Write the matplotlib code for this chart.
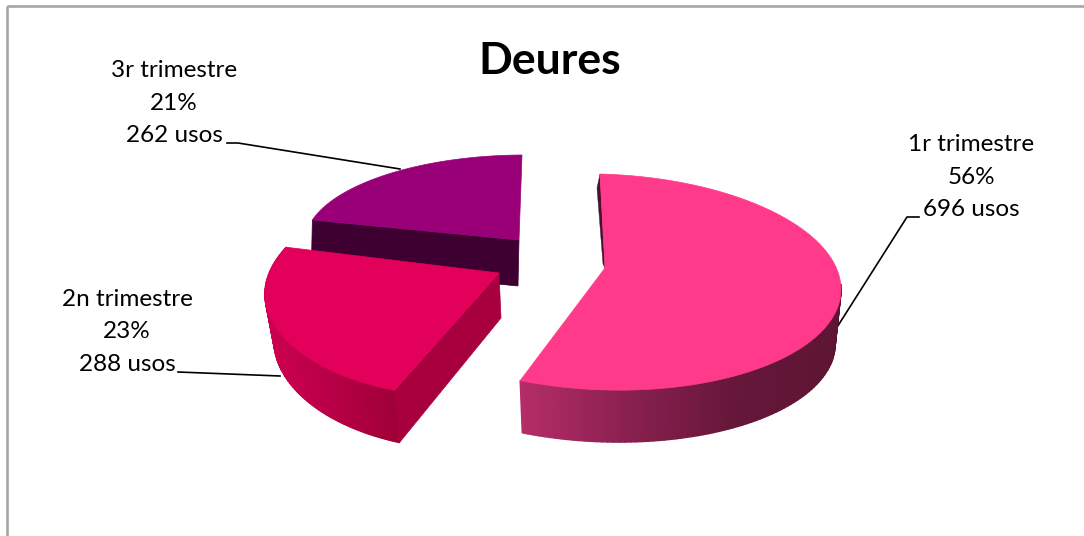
import numpy as np
import matplotlib
matplotlib.use("Agg")
import matplotlib.pyplot as plt
from matplotlib.collections import PolyCollection
from matplotlib.colors import LinearSegmentedColormap
from matplotlib.patches import Polygon, Rectangle

# Dades
trimestres = ["1r trimestre", "2n trimestre", "3r trimestre"]
percentatges = [56, 23, 21]
usos = [696, 288, 262]
titol = "Deures"

plt.rcParams['font.family'] = ['Lato', 'DejaVu Sans']

# Angles of the slices, clockwise from the top
fraccions = np.array(usos) / sum(usos)
limits = 90 - 360 * np.concatenate(([0], np.cumsum(fraccions)))

# Fake 3D projection of each slice, in pixels
formes = [
    dict(c=(603, 282), a=(238, 6), b=(-3, -108), apex=(605, 268), k=0.0,
         prof=(0, 55), esc=(0.975, 0.975), top="#FF3A8A",
         paret=["#B32D66", "#8A2050", "#66173A", "#5E1534"], parada=2),
    dict(c=(499, 273), a=(226, -5), b=(25, -124), apex=(499, 273), k=0.03,
         prof=(2, 45), esc=(0.97, 1.06), top="#E2005A",
         paret=["#A00038", "#B80046", "#CC0050"], parada=None, tall="#A8003F"),
    dict(c=(519, 240), a=(214, -1), b=(3, -85), apex=(519, 240), k=0.0,
         prof=(-1, 46), esc=(1, 1), top="#990077", tall="#3D0030"),
]

fig, ax = plt.subplots(figsize=(10.84, 5.36), dpi=100)
fig.subplots_adjust(0, 0, 1, 1)
ax.set_xlim(0, 1084)
ax.set_ylim(536, 0)
ax.axis('off')

ax.add_patch(Rectangle((7, 6), 1200, 800, fill=False, edgecolor="#A6A6A6", linewidth=1.9))


def arc(f, th0, th1, n=80):
    th = np.radians(np.linspace(th0, th1, n))
    t = np.linspace(0, 1, n)
    r = 1 + f['k'] * np.sin(np.pi * t ** 2)
    x = f['c'][0] + r * (f['a'][0] * np.cos(th) + f['b'][0] * np.sin(th))
    y = f['c'][1] + r * (f['a'][1] * np.cos(th) + f['b'][1] * np.sin(th))
    return np.column_stack([x, y])


def baix(f, pts):
    pts = np.asarray(pts, dtype=float)
    ap = np.array(f['apex'], dtype=float)
    return ap + np.array(f['prof']) + (pts - ap) * np.array(f['esc'])


def paret_degradat(f, pts, colors):
    b = baix(f, pts)
    quads = [[pts[i], pts[i + 1], b[i + 1], b[i]] for i in range(len(pts) - 1)]
    cmap = LinearSegmentedColormap.from_list("paret", colors)
    xm = np.array([np.mean([q[0][0], q[1][0]]) for q in quads])
    cols = cmap((xm - xm.min()) / (xm.max() - xm.min()))
    ax.add_collection(PolyCollection(quads, facecolors=cols, edgecolors=cols, linewidths=1.0))


# 3r trimestre (back)
f = formes[2]
pts = arc(f, limits[3] + 360, limits[2] + 360)  # from the top edge round to the left edge
esq = pts[-1]
ax.add_patch(Polygon([esq, f['apex'], baix(f, f['apex']), baix(f, esq)], closed=True, color=f['tall'], lw=0.5))
ax.add_patch(Polygon(np.vstack([[f['apex']], pts]), closed=True, color=f['top'], lw=0.5))

# 2n trimestre
f = formes[1]
pts = arc(f, limits[1], limits[2])
paret_degradat(f, pts[::-1], f['paret'][::-1])
ax.add_patch(Polygon([pts[0], f['apex'], baix(f, f['apex']), baix(f, pts[0])], closed=True, color=f['tall'], lw=0.5))
ax.add_patch(Polygon(np.vstack([[f['apex']], pts]), closed=True, color=f['top'], lw=0.5))

# 1r trimestre
f = formes[0]
pts = arc(f, limits[0], limits[1])
visible = arc(f, limits[1], f['parada'])
paret_degradat(f, visible, f['paret'])
dalt = pts[0]
ax.add_patch(Polygon([dalt, f['apex'], (f['apex'][0] - 2, f['apex'][1] - 4), (dalt[0] - 3, dalt[1] + 14)],
                     closed=True, color="#4A1030", lw=0.3))
ax.add_patch(Polygon(np.vstack([[f['apex']], pts]), closed=True, color=f['top'], lw=0.5))

# Leader lines
ax.plot([919, 907, 834], [217, 217, 332], color="black", lw=1.2, zorder=0.5)
ax.plot([178, 280], [372, 376], color="black", lw=1.2, zorder=5)
ax.plot([227, 238, 400], [143, 143, 169], color="black", lw=1.2, zorder=5)

# Labels
llocs = [(971, 177), (127, 332), (174, 103)]
for nom, pct, n, (x, y) in zip(trimestres, percentatges, usos, llocs):
    ax.text(x, y, f"{nom}\n{pct}%\n{n} usos", ha='center', va='center',
            fontsize=17.5, color="black", linespacing=1.68)

ax.text(550, 61, titol, ha='center', va='center', fontsize=32, fontweight='bold', color="black")

fig.savefig("out.png", dpi=100)
